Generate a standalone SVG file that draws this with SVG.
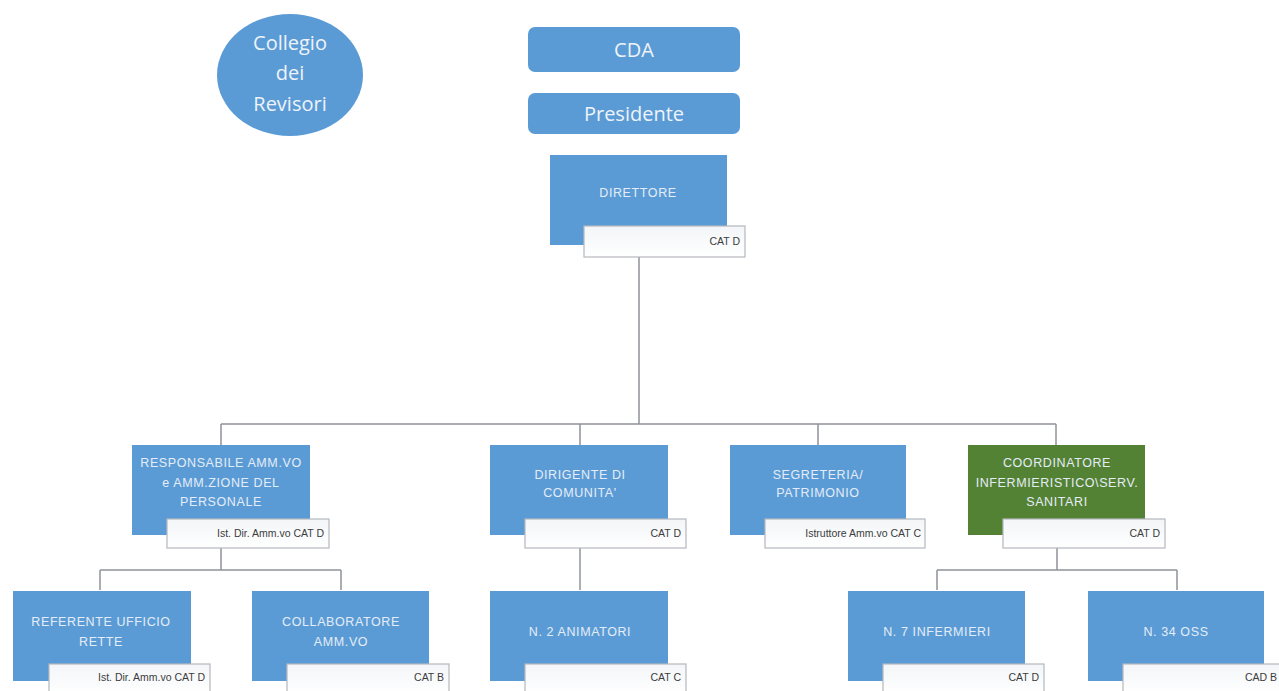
<svg xmlns="http://www.w3.org/2000/svg" width="1279" height="691" viewBox="0 0 1279 691">
<defs>
<linearGradient id="wg" x1="0" y1="0" x2="0" y2="1">
<stop offset="0" stop-color="#f3f5f8"/>
<stop offset="1" stop-color="#ffffff"/>
</linearGradient>
</defs>
<style>
.blue{fill:#5b9bd5;}
.green{fill:#548235;}
.lbl{fill:url(#wg);stroke:#b4b8bd;stroke-width:1.2;}
.t{font-family:"Liberation Sans",Arial,sans-serif;font-size:12.5px;fill:#e4edf7;text-anchor:middle;letter-spacing:0.6px;}
.big{font-family:"Open Sans","Liberation Sans",sans-serif;font-size:20px;fill:#eef3fa;text-anchor:middle;}
.c{font-family:"Liberation Sans",Arial,sans-serif;font-size:10.5px;fill:#3c3c3c;text-anchor:end;}
.ln{stroke:#8e949a;stroke-width:1.5;fill:none;}
</style>
<rect width="1279" height="691" fill="#ffffff"/>
<g id="connectors">
<path class="ln" d="M639,257 V424 M221,424 H1056 M221,424 V446 M580,424 V446 M818,424 V446 M1056,424 V446"/>
<path class="ln" d="M221,548 V570 M100,570 H341 M100,570 V590 M341,570 V590"/>
<path class="ln" d="M580,548 V590"/>
<path class="ln" d="M1057,548 V570 M937,570 H1177 M937,570 V590 M1177,570 V590"/>
</g>
<g id="collegio">
<ellipse class="blue" cx="290" cy="75" rx="73" ry="61"/>
<text class="big" x="290" y="50">Collegio</text>
<text class="big" x="290" y="80">dei</text>
<text class="big" x="290" y="111">Revisori</text>
</g>
<g id="cda">
<rect class="blue" x="528" y="27" width="212" height="45" rx="7"/>
<text class="big" x="634" y="57">CDA</text>
</g>
<g id="presidente">
<rect class="blue" x="528" y="93" width="212" height="41" rx="7"/>
<text class="big" x="634" y="121">Presidente</text>
</g>
<g id="direttore">
<rect class="blue" x="550" y="155" width="177" height="90"/>
<text class="t" x="638" y="197">DIRETTORE</text>
<rect class="lbl" x="584" y="226" width="161" height="31"/>
<text class="c" x="740" y="245">CAT D</text>
</g>
<g id="responsabile">
<rect class="blue" x="132" y="445" width="178" height="90"/>
<text class="t" x="221" y="467">RESPONSABILE AMM.VO</text>
<text class="t" x="221" y="487">e AMM.ZIONE DEL</text>
<text class="t" x="221" y="506">PERSONALE</text>
<rect class="lbl" x="167" y="519" width="162" height="29"/>
<text class="c" x="324" y="537">Ist. Dir. Amm.vo CAT D</text>
</g>
<g id="dirigente">
<rect class="blue" x="490" y="445" width="178" height="90"/>
<text class="t" x="580" y="479">DIRIGENTE DI</text>
<text class="t" x="580" y="497">COMUNITA'</text>
<rect class="lbl" x="525" y="519" width="161" height="29"/>
<text class="c" x="681" y="537">CAT D</text>
</g>
<g id="segreteria">
<rect class="blue" x="730" y="445" width="176" height="90"/>
<text class="t" x="818" y="479">SEGRETERIA/</text>
<text class="t" x="818" y="497">PATRIMONIO</text>
<rect class="lbl" x="765" y="519" width="160" height="29"/>
<text class="c" x="921" y="537">Istruttore Amm.vo CAT C</text>
</g>
<g id="coordinatore">
<rect class="green" x="968" y="445" width="177" height="90"/>
<text class="t" x="1057" y="467">COORDINATORE</text>
<text class="t" x="1057" y="487">INFERMIERISTICO\SERV.</text>
<text class="t" x="1057" y="506">SANITARI</text>
<rect class="lbl" x="1003" y="519" width="162" height="29"/>
<text class="c" x="1160" y="537">CAT D</text>
</g>
<g id="referente">
<rect class="blue" x="13" y="591" width="178" height="90"/>
<text class="t" x="101" y="626">REFERENTE UFFICIO</text>
<text class="t" x="101" y="646">RETTE</text>
<rect class="lbl" x="49" y="664" width="161" height="30"/>
<text class="c" x="205" y="681">Ist. Dir. Amm.vo CAT D</text>
</g>
<g id="collaboratore">
<rect class="blue" x="252" y="591" width="177" height="90"/>
<text class="t" x="341" y="626">COLLABORATORE</text>
<text class="t" x="341" y="646">AMM.VO</text>
<rect class="lbl" x="287" y="664" width="162" height="30"/>
<text class="c" x="444" y="681">CAT B</text>
</g>
<g id="animatori">
<rect class="blue" x="490" y="591" width="178" height="90"/>
<text class="t" x="580" y="636">N. 2 ANIMATORI</text>
<rect class="lbl" x="525" y="664" width="161" height="30"/>
<text class="c" x="681" y="681">CAT C</text>
</g>
<g id="infermieri">
<rect class="blue" x="848" y="591" width="177" height="90"/>
<text class="t" x="937" y="636">N. 7 INFERMIERI</text>
<rect class="lbl" x="883" y="664" width="161" height="30"/>
<text class="c" x="1039" y="681">CAT D</text>
</g>
<g id="oss">
<rect class="blue" x="1088" y="591" width="176" height="90"/>
<text class="t" x="1176" y="636">N. 34 OSS</text>
<rect class="lbl" x="1123" y="664" width="160" height="30"/>
<text class="c" x="1277" y="681">CAD B</text>
</g>
</svg>
